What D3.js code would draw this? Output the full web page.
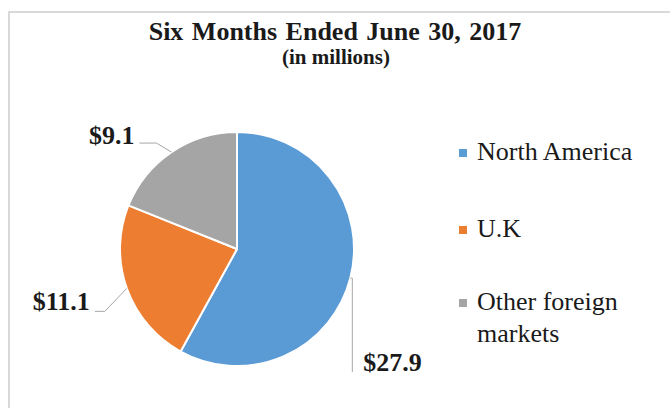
<!DOCTYPE html>
<html>
<head>
<meta charset="utf-8">
<script src="https://cdn.jsdelivr.net/npm/d3@7/dist/d3.min.js"></script>
<style>
  html, body { margin: 0; padding: 0; background: #fff; }
  svg { display: block; }
  text { font-family: "Liberation Serif", "Times New Roman", serif; fill: #1a1a1a; }
</style>
</head>
<body>
<svg id="chart" width="670" height="408"></svg>
<script>
// Revenue by region, six months ended June 30, 2017 (in millions)
const categories = ["North America", "U.K", "Other foreign markets"];
const legendLines = [["North America"], ["U.K"], ["Other foreign", "markets"]];
const values = [27.9, 11.1, 9.1];
const colors = ["#5b9bd5", "#ed7d31", "#a5a5a5"];
const titleText = "Six Months Ended June 30, 2017";
const subtitleText = "(in millions)";

const W = 670, H = 408;
const svg = d3.select("#chart");

// chart-area frame
svg.append("path")
  .attr("d", `M9,${H + 5} V12 H${W + 5}`)
  .attr("fill", "none")
  .attr("stroke", "#d9d9d9")
  .attr("stroke-width", 2);

// titles
svg.append("text")
  .attr("x", 335).attr("y", 40)
  .attr("text-anchor", "middle")
  .attr("font-size", 26).attr("font-weight", "bold")
  .attr("word-spacing", 2)
  .text(titleText);
svg.append("text")
  .attr("x", 336).attr("y", 64)
  .attr("text-anchor", "middle")
  .attr("font-size", 21).attr("font-weight", "bold")
  .text(subtitleText);

// pie
const cx = 237, cy = 249, r = 117;
const pie = d3.pie().sort(null).value(d => d)(values);
const arc = d3.arc().innerRadius(0).outerRadius(r);
const g = svg.append("g").attr("transform", `translate(${cx},${cy})`);

g.selectAll("path.slice")
  .data(pie)
  .join("path")
  .attr("class", "slice")
  .attr("d", arc)
  .attr("fill", (d, i) => colors[i])
  .attr("stroke", "#fff")
  .attr("stroke-width", 2)
  .attr("stroke-linejoin", "round");

// data labels with leader lines, anchored at the outer edge of each slice
const fmt = v => "$" + d3.format(".1f")(v);
const edge = d => {
  const a = (d.startAngle + d.endAngle) / 2;
  return [r * Math.sin(a), -r * Math.cos(a)];
};
// leader routing per slice: elbow offset, line end offset, label position
const leaderPlan = [
  { elbow: [2, 0], end: [2, 94], label: [13, 93], anchor: "start" },
  { elbow: [-22, 23], end: [-32, 23], label: [-37, 22], anchor: "end" },
  { elbow: [-15, -9], end: [-32, -9], label: [-37, -8], anchor: "end" }
];

pie.forEach((d, i) => {
  const [ex, ey] = edge(d);
  const p = leaderPlan[i];
  g.append("path")
    .attr("d", `M${ex},${ey} L${ex + p.elbow[0]},${ey + p.elbow[1]} L${ex + p.end[0]},${ey + p.end[1]}`)
    .attr("fill", "none")
    .attr("stroke", "#a6a6a6")
    .attr("stroke-width", 1);
  g.append("text")
    .attr("x", ex + p.label[0]).attr("y", ey + p.label[1])
    .attr("text-anchor", p.anchor)
    .attr("font-size", 26).attr("font-weight", "bold")
    .text(fmt(values[i]));
});

// legend
const legendY = [160, 237, 310];
const lg = svg.append("g");
categories.forEach((c, i) => {
  const row = lg.append("g").attr("transform", `translate(459,${legendY[i]})`);
  row.append("rect")
    .attr("x", 0).attr("y", -11)
    .attr("width", 8).attr("height", 8)
    .attr("fill", colors[i]);
  const t = row.append("text")
    .attr("x", 18).attr("y", 0)
    .attr("font-size", 26);
  legendLines[i].forEach((line, j) => {
    t.append("tspan").attr("x", 18).attr("dy", j === 0 ? 0 : 32).text(line);
  });
});
</script>
</body>
</html>
